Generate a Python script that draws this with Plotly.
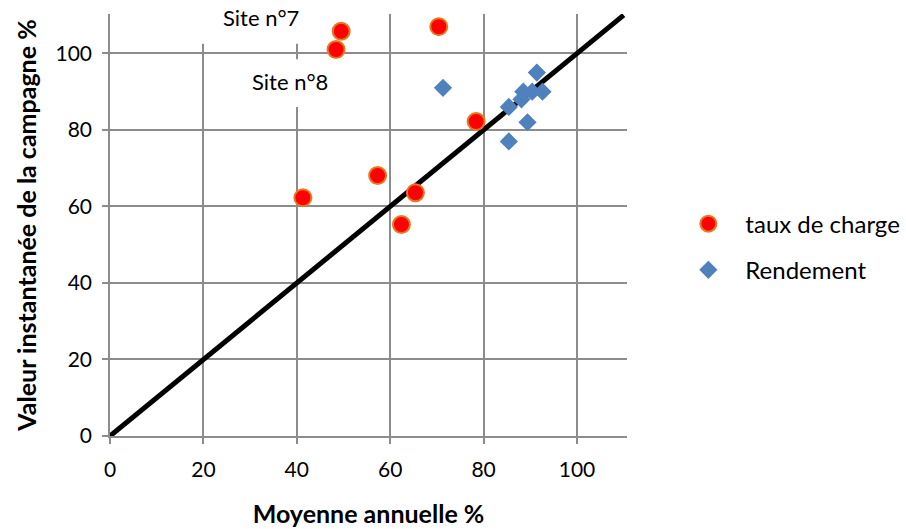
import plotly.graph_objects as go

# Data
charge_x = [41.3, 48.4, 49.5, 57.3, 62.4, 65.4, 70.4, 78.4]
charge_y = [62.3, 101.0, 105.8, 68.1, 55.3, 63.6, 107.0, 82.2]

rend_x = [71.3, 85.4, 85.4, 88.1, 88.5, 89.4, 90.4, 91.4, 92.6]
rend_y = [91.0, 86.0, 77.0, 88.0, 90.0, 82.0, 90.0, 95.0, 90.0]

ref_line = [0, 110]
tick_vals = [0, 20, 40, 60, 80, 100]

FONT = "Lato"
GRID = "#8c8c8c"

fig = go.Figure()

fig.add_trace(go.Scatter(
    x=ref_line, y=ref_line, mode="lines",
    line=dict(color="black", width=5),
    showlegend=False, hoverinfo="skip", cliponaxis=True,
))
fig.add_trace(go.Scatter(
    x=charge_x, y=charge_y, mode="markers", name="taux de charge",
    legendgroup="a",
    marker=dict(symbol="circle", size=17, color="#ff0000",
                line=dict(color="#e8791e", width=2)),
))
fig.add_trace(go.Scatter(
    x=rend_x, y=rend_y, mode="markers", name="Rendement",
    legendgroup="b",
    marker=dict(symbol="diamond", size=14, color="#4f81bd",
                line=dict(color="#4f81bd", width=0)),
))

# white text-box backgrounds (above gridlines, below traces)
fig.add_shape(type="rect", xref="x", yref="y", x0=17, x1=44, y0=102.5, y1=111,
              fillcolor="white", line=dict(width=0), layer="between")
fig.add_shape(type="rect", xref="x", yref="y", x0=29, x1=48, y0=86, y1=98.5,
              fillcolor="white", line=dict(width=0), layer="between")

fig.add_annotation(x=32.3, y=109.5, xref="x", yref="y", text="Site n°7",
                   showarrow=False, font=dict(family=FONT, size=22, color="black"))
fig.add_annotation(x=38.6, y=92.6, xref="x", yref="y", text="Site n°8",
                   showarrow=False, font=dict(family=FONT, size=22, color="black"))

fig.update_layout(
    width=906, height=529,
    margin=dict(l=110, r=279, t=14, b=93, autoexpand=False),
    paper_bgcolor="white", plot_bgcolor="white",
    font=dict(family=FONT, size=21, color="black"),
    legend=dict(xref="container", yref="container", x=0.741, y=0.533,
                xanchor="left", yanchor="middle",
                font=dict(family=FONT, size=24, color="black"),
                itemsizing="trace", itemwidth=64, tracegroupgap=12,
                bgcolor="rgba(0,0,0,0)"),
    showlegend=True,
)
fig.update_xaxes(
    range=[0, 110.7], tickvals=tick_vals, showgrid=True, gridcolor=GRID, gridwidth=1.5,
    zeroline=False, showline=True, linecolor=GRID, linewidth=1.5,
    ticks="outside", ticklen=6, tickcolor=GRID, tickwidth=1.5, automargin=False,
    tickfont=dict(family=FONT, size=21), ticklabelstandoff=8,
    title=dict(text="<b>Moyenne annuelle %</b>", font=dict(family=FONT, size=25), standoff=26),
)
fig.update_yaxes(
    range=[0, 110.3], tickvals=tick_vals, showgrid=True, gridcolor=GRID, gridwidth=1.5,
    zeroline=False, showline=True, linecolor=GRID, linewidth=1.5,
    ticks="outside", ticklen=6, tickcolor=GRID, tickwidth=1.5, automargin=False,
    tickfont=dict(family=FONT, size=21), ticklabelstandoff=6,
    title=dict(text="<b>Valeur instantanée de la campagne %</b>", font=dict(family=FONT, size=25), standoff=12),
)

fig.write_html("out.html")
